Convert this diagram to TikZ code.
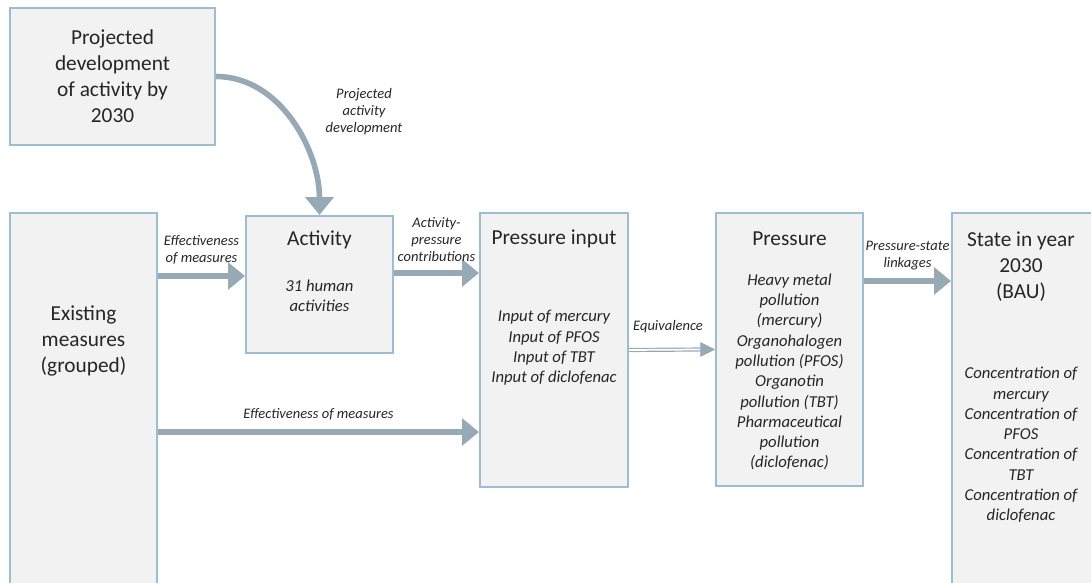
\documentclass[tikz,border=0pt]{standalone}
\usepackage{fontspec}
\setmainfont{Carlito}
\usetikzlibrary{arrows.meta, positioning, calc}
\definecolor{boxfill}{HTML}{F2F2F2}
\definecolor{boxline}{HTML}{9DBDD2}
\definecolor{arrowgray}{HTML}{98A9B6}
\definecolor{txtgray}{HTML}{262626}
\tikzset{
  box/.style={rectangle, draw=boxline, fill=boxfill, line width=1.5pt, inner sep=0pt},
  boxtitle/.style={align=center, text=txtgray, font=\fontsize{16}{19.5}\selectfont},
  boxbody/.style={align=center, text=txtgray, font=\fontsize{12.5}{15.2}\selectfont\itshape},
  flowlabel/.style={align=center, text=txtgray, font=\fontsize{10.9}{12.75}\selectfont\itshape},
  flow/.style={draw=arrowgray, line width=4.5pt, -{Triangle[length=12.75pt,width=20pt]}},
}

\begin{document}
\begin{tikzpicture}[x=0.75pt, y=-0.75pt]

% Frame
\useasboundingbox (0,0) rectangle (1091,582);
\clip (0,0) rectangle (1091,582);

% Boxes
\node[box, minimum width=153.75pt, minimum height=102.75pt] (proj) at (112.5,76.5) {};
\node[box, minimum width=110.25pt, minimum height=290.25pt] (exist) at (83.5,406.5) {};
\node[box, minimum width=110.25pt, minimum height=102.75pt] (act) at (319.5,284.5) {};
\node[box, minimum width=111pt, minimum height=205.5pt] (pin) at (554,350) {};
\node[box, minimum width=110.25pt, minimum height=204.75pt] (pres) at (789.5,349.5) {};
\node[box, minimum width=118.5pt, minimum height=290.25pt] (state) at (1031,406.5) {};

% Box texts
\node[boxtitle] (projtxt) at (proj.center) {Projected\\development\\of activity by\\2030};
\node[boxtitle] (existtxt) at (83.5,341) {Existing\\measures\\(grouped)};
\node[boxtitle] (acttitle) at ($(act.north)+(0,25)$) {Activity};
\node[boxbody] (actbody) at ($(act.north)+(0,80.5)$) {31 human\\activities};
\node[boxtitle] (pintitle) at ($(pin.north)+(0,27)$) {Pressure input};
\node[boxbody] (pinbody) at ($(pin.north)+(0,136)$) {Input of mercury\\Input of PFOS\\Input of TBT\\Input of diclofenac};
\node[boxtitle] (prestitle) at ($(pres.north)+(0,27)$) {Pressure};
\node[boxbody] (presbody) at ($(pres.north)+(0,160)$) {Heavy metal\\pollution\\(mercury)\\Organohalogen\\pollution (PFOS)\\Organotin\\pollution (TBT)\\Pharmaceutical\\pollution\\(diclofenac)};
\node[boxtitle] (statetitle) at (1021,267) {State in year\\2030\\(BAU)};
\node[boxbody] (statebody) at (1021,445) {Concentration of\\mercury\\Concentration of\\PFOS\\Concentration of\\TBT\\Concentration of\\diclofenac};

% Arrow anchors
\coordinate (effin) at ($(act.west)+(0,-8.5)$);
\coordinate (apout) at ($(act.east)+(0,-11.5)$);
\coordinate (effpin) at ($(pin.west)+(0,82)$);
\coordinate (psout) at ($(pres.east)+(0,-68.5)$);
\coordinate (eqtip) at ($(pres.west)+(-15,0)$);

% Arrows
\draw[draw=arrowgray, line width=4.2pt, -{Triangle[length=13.5pt,width=21pt]}] (proj.east) to[out=0, in=90, looseness=0.95] (act.north);
\node[flowlabel] (projlbl) at (364,112) {Projected\\activity\\development};

\draw[flow] (exist.east |- effin) -- (effin)
  node[flowlabel, midway, above=3pt] (efflbl) {Effectiveness\\of measures};
\draw[flow] (apout) -- (pin.west |- apout)
  node[flowlabel, midway, above=3pt] (aplbl) {Activity-\\pressure\\contributions};
\draw[flow] (exist.east |- effpin) -- (effpin)
  node[flowlabel, midway, above=3pt] (efflbl2) {Effectiveness of measures};
\draw[draw=arrowgray, line width=0.9pt, double=white, double distance=1.3pt] (pin.east) -- (eqtip)
  node[flowlabel, pos=0.55, above=9pt] (eqlbl) {Equivalence};
\draw[draw=arrowgray, line width=0.5pt, -{Triangle[length=11pt,width=11pt]}] (eqtip) -- (pres.west);
\draw[flow] (psout) -- (state.west |- psout)
  node[flowlabel, midway, above=3pt] (pslbl) {Pressure-state\\linkages};

\end{tikzpicture}
\end{document}
